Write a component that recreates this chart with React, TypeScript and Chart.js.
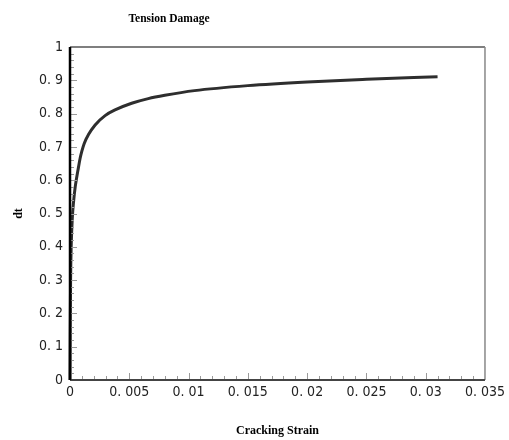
import React, { useEffect, useRef } from "react";
import { Chart, registerables } from "chart.js";

Chart.register(...registerables);

const strain = [0, 0.00002, 0.00005, 0.0001, 0.0002, 0.0003, 0.00044, 0.00072, 0.00085, 0.001, 0.0012, 0.00156, 0.00212, 0.00296, 0.0038, 0.0052, 0.0066, 0.008, 0.0105, 0.015, 0.02, 0.025, 0.031];
const damage = [0, 0.15, 0.3, 0.4, 0.49, 0.535, 0.58, 0.64, 0.665, 0.687, 0.71, 0.737, 0.766, 0.794, 0.811, 0.831, 0.845, 0.855, 0.869, 0.884, 0.895, 0.903, 0.911];

const xTickValues = [0, 0.005, 0.01, 0.015, 0.02, 0.025, 0.03, 0.035];
const xTickLabels = ["0", "0. 005", "0. 01", "0. 015", "0. 02", "0. 025", "0. 03", "0. 035"];
const yTickValues = [0, 0.1, 0.2, 0.3, 0.4, 0.5, 0.6, 0.7, 0.8, 0.9, 1];
const yTickLabels = ["0", "0. 1", "0. 2", "0. 3", "0. 4", "0. 5", "0. 6", "0. 7", "0. 8", "0. 9", "1"];

const chartTitle = "Tension Damage";
const xTitle = "Cracking Strain";
const yTitle = "dt";

const labelFor = (values: number[], labels: string[], v: number) => {
  const i = values.findIndex((t) => Math.abs(t - v) < 1e-9);
  return i >= 0 ? labels[i] : "";
};

const framePlugin = {
  id: "frameTicks",
  afterDraw(chart: any) {
    const { ctx, chartArea } = chart;
    const xs = chart.scales.x;
    const ys = chart.scales.y;
    const { left, right, top, bottom } = chartArea;
    ctx.save();
    // inward ticks
    ctx.strokeStyle = "#9a9a9a";
    ctx.lineWidth = 1;
    for (let i = 1; i < 35; i++) {
      const v = i * 0.001;
      const px = Math.round(xs.getPixelForValue(v)) + 0.5;
      const len = i % 5 === 0 ? 7 : 4;
      ctx.beginPath();
      ctx.moveTo(px, bottom);
      ctx.lineTo(px, bottom - len);
      ctx.stroke();
    }
    for (let i = 1; i < 50; i++) {
      const v = i * 0.02;
      const py = Math.round(ys.getPixelForValue(v)) + 0.5;
      const len = i % 5 === 0 ? 7 : 4;
      ctx.beginPath();
      ctx.moveTo(left, py);
      ctx.lineTo(left + len, py);
      ctx.stroke();
    }
    // frame
    ctx.strokeStyle = "#555";
    ctx.lineWidth = 1.5;
    ctx.beginPath();
    ctx.moveTo(left, top);
    ctx.lineTo(right, top);
    ctx.stroke();
    ctx.strokeStyle = "#888";
    ctx.beginPath();
    ctx.moveTo(right, top);
    ctx.lineTo(right, bottom);
    ctx.stroke();
    ctx.strokeStyle = "#444";
    ctx.lineWidth = 2;
    ctx.beginPath();
    ctx.moveTo(left, bottom);
    ctx.lineTo(right, bottom);
    ctx.stroke();
    ctx.strokeStyle = "#000";
    ctx.lineWidth = 2.5;
    ctx.beginPath();
    ctx.moveTo(left, top);
    ctx.lineTo(left, bottom);
    ctx.stroke();
    // chart title
    ctx.fillStyle = "#000";
    ctx.font = "bold 11.5px 'Liberation Serif', serif";
    ctx.textAlign = "center";
    ctx.textBaseline = "middle";
    ctx.fillText(chartTitle, 169, 19);
    ctx.restore();
  },
};

export default function App() {
  const ref = useRef<HTMLCanvasElement | null>(null);
  useEffect(() => {
    if (!ref.current) return;
    const tickFont = { family: "'DejaVu Sans Condensed', 'DejaVu Sans', sans-serif", size: 14 };
    const titleFont = { family: "'Liberation Serif', serif", size: 12, weight: "bold" as const };
    const chart = new Chart(ref.current, {
      type: "line",
      data: {
        datasets: [
          {
            data: strain.map((s, i) => ({ x: s, y: damage[i] })),
            borderColor: "#2e2e2e",
            borderWidth: 3,
            pointRadius: 0,
            cubicInterpolationMode: "monotone",
            fill: false,
            clip: 6,
          },
        ],
      },
      plugins: [framePlugin],
      options: {
        animation: false,
        responsive: false,
        layout: { padding: { top: 47, right: 22, bottom: 0, left: 0 } },
        plugins: { legend: { display: false }, tooltip: { enabled: false }, title: { display: false } },
        scales: {
          x: {
            type: "linear",
            min: 0,
            max: 0.035,
            afterBuildTicks: (scale: any) => {
              scale.ticks = xTickValues.map((v) => ({ value: v }));
            },
            afterFit: (scale: any) => {
              scale.height = 60;
            },
            ticks: {
              font: tickFont,
              color: "#222",
              padding: 4,
              maxRotation: 0,
              autoSkip: false,
              callback: (v: any) => labelFor(xTickValues, xTickLabels, Number(v)),
            },
            grid: { display: false, drawTicks: false },
            border: { display: false },
            title: { display: true, text: xTitle, font: titleFont, color: "#000", padding: { top: 0, bottom: 2 } },
          },
          y: {
            type: "linear",
            min: 0,
            max: 1,
            afterBuildTicks: (scale: any) => {
              scale.ticks = yTickValues.map((v) => ({ value: v }));
            },
            afterFit: (scale: any) => {
              scale.width = 70;
            },
            ticks: {
              font: tickFont,
              color: "#222",
              padding: 7,
              autoSkip: false,
              callback: (v: any) => labelFor(yTickValues, yTickLabels, Number(v)),
            },
            grid: { display: false, drawTicks: false },
            border: { display: false },
            title: { display: true, text: yTitle, font: titleFont, color: "#000", padding: { top: 12, bottom: 0 } },
          },
        },
      },
    } as any);
    return () => chart.destroy();
  }, []);
  return (
    <div style={{ position: "fixed", left: 0, top: 0, width: 509, height: 440, background: "#fff" }}>
      <canvas ref={ref} width={509} height={440} style={{ display: "block" }} />
    </div>
  );
}
